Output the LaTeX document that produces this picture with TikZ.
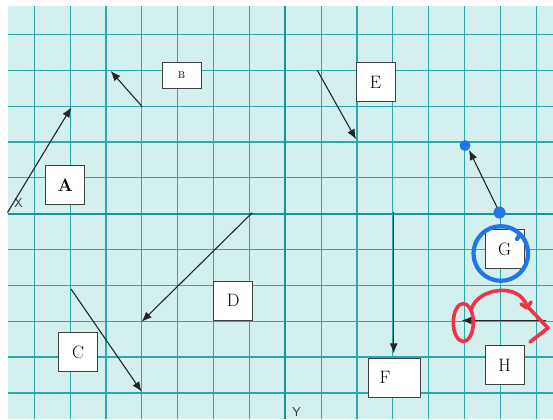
\documentclass[tikz,border=0pt]{standalone}
\usetikzlibrary{arrows.meta}
\definecolor{bgcyan}{RGB}{211,240,239}
\definecolor{gridteal}{RGB}{42,168,170}
\definecolor{axisteal}{RGB}{22,148,152}
\definecolor{penblue}{RGB}{30,118,232}
\definecolor{penred}{RGB}{238,52,72}
\begin{document}
\begin{tikzpicture}[x=1bp,y=-1bp,
  gridline/.style={draw=gridteal,line width=1.2bp},
  axisline/.style={draw=axisteal,line width=2.3bp},
  box/.style={draw=black!75,fill=white,line width=0.8bp,minimum width=39bp,minimum height=39bp,inner sep=0pt,font=\fontsize{18}{20}\selectfont},
  vec/.style={draw=black!85,line width=1.1bp,-{Latex[length=10bp,width=8bp]}},
  bluepen/.style={draw=penblue,line width=4.2bp,line cap=round},
  redpen/.style={draw=penred,line width=3.6bp,line cap=round,line join=round},
  axlabel/.style={font=\sffamily\fontsize{13}{14}\selectfont,text=black!80,inner sep=0pt}]
\useasboundingbox (0,0) rectangle (553,419);
\fill[bgcyan] (8,6) rectangle (553,419);
\foreach \k in {-7,...,7} \draw[gridline] ({285.3+35.86*\k},6) -- ({285.3+35.86*\k},419);
\foreach \k in {-5,...,5} \draw[gridline] (8,{213.7+35.84*\k}) -- (553,{213.7+35.84*\k});
\draw[axisline] (285.3,6) -- (285.3,419);
\draw[axisline] (8,213.7) -- (553,213.7);

% boxes
\node[box] (boxA) at (65.2,185) {\textbf{A}};
\node[box,minimum width=38.7bp,minimum height=25.6bp,font=\fontsize{10}{12}\selectfont] (boxB) at (181.7,75.5) {B};
\node[box] (boxC) at (78.2,352.2) {C};
\node[box] (boxD) at (233.2,300.5) {D};
\node[box] (boxE) at (375.5,82) {E};
\node[box,text width=30bp,align=left,inner xsep=11bp] (boxF) at (394.7,377.8) {F};
\node[box] (boxG) at (504.5,249) {G};
\node[box] (boxH) at (504.5,365) {H};

% vectors
\coordinate (a0) at (7.5,212.5); \coordinate (a1) at (71.3,107.3);
\coordinate (b0) at (142.3,106.7); \coordinate (b1) at (110.7,71);
\coordinate (c0) at (71,289); \coordinate (c1) at (141.7,391.7);
\coordinate (d0) at (252.3,212.7); \coordinate (d1) at (141.7,321.7);
\coordinate (e0) at (317.3,70.3); \coordinate (e1) at (356,139.3);
\coordinate (f0) at (393.7,211.7); \coordinate (f1) at (393.7,353.3);
\coordinate (g0) at (499.3,212); \coordinate (g1) at (469,150);
\coordinate (h0) at (546,320.5); \coordinate (h1) at (461.7,320.5);
\draw[vec] (a0) -- (a1);
\draw[vec] (b0) -- (b1);
\draw[vec] (c0) -- (c1);
\draw[vec] (d0) -- (d1);
\draw[vec] (e0) -- (e1);
\draw[vec] (f0) -- (f1);
\draw[vec] (g0) -- (g1);
\draw[vec] (h0) -- (h1);

% axis labels
\node[axlabel] (xlab) at (18.5,203) {X};
\node[axlabel] (ylab) at (296.5,412) {Y};

% blue marks
\fill[penblue] (465,145.5) circle (5.5bp);
\fill[penblue] (499.5,212.5) circle (6bp);
\draw[bluepen] (500.8,253.5) circle (27.3bp);
\draw[bluepen] (520,234.5) -- (517,239);

% red marks
\draw[redpen] (463.3,322.5) ellipse [x radius=10bp, y radius=19bp];
\draw[redpen] (471.5,309) .. controls (477,289) and (518,281) .. (527,306) -- (548,328) -- (530,342);
\draw[redpen] (521,304) -- (527,308) -- (531,302);
\end{tikzpicture}
\end{document}
